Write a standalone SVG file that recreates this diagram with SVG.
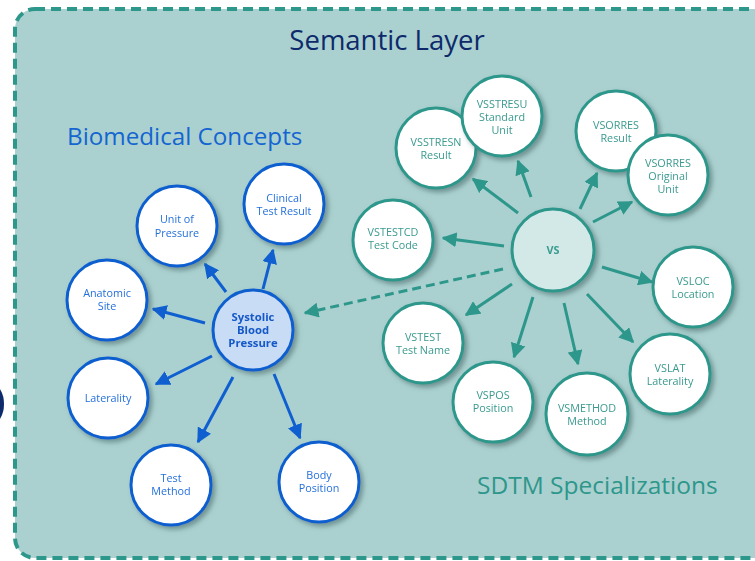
<svg xmlns="http://www.w3.org/2000/svg" width="755" height="561" viewBox="0 0 755 561">
<defs>
<filter id="sh" x="-30%" y="-30%" width="170%" height="170%">
<feDropShadow dx="3" dy="3" stdDeviation="2.5" flood-color="#3d5f5e" flood-opacity="0.55"/>
</filter>
<marker id="ab" viewBox="0 0 10 10" refX="9" refY="5" markerWidth="5" markerHeight="5" orient="auto" markerUnits="strokeWidth">
<path d="M0,0 L10,5 L0,10 z" fill="#0f5fd0"/>
</marker>
<marker id="at" viewBox="0 0 10 10" refX="9" refY="5" markerWidth="5" markerHeight="5" orient="auto" markerUnits="strokeWidth">
<path d="M0,0 L10,5 L0,10 z" fill="#2e978b"/>
</marker>
</defs>
<style>
.bc{fill:#ffffff;stroke:#0f5fd0;stroke-width:3}
.tc{fill:#ffffff;stroke:#2e978b;stroke-width:3}
.bt{font-family:"Open Sans","Noto Sans",sans-serif;font-size:10.8px;fill:#2470dc;text-anchor:middle}
.tt{font-family:"Open Sans","Noto Sans",sans-serif;font-size:10.8px;fill:#3a9a8f;text-anchor:middle}
.bl{stroke:#0f5fd0;stroke-width:3;fill:none;marker-end:url(#ab)}
.tl{stroke:#2e978b;stroke-width:3;fill:none;marker-end:url(#at)}
</style>
<rect width="755" height="561" fill="#ffffff"/>
<ellipse cx="-7" cy="404" rx="11" ry="19" fill="#0d2a6b"/>
<rect id="frame" x="15" y="9" width="760" height="549" rx="20" fill="#aad1d0" stroke="#2e978b" stroke-width="4" stroke-dasharray="10,6"/>
<text x="387" y="50" font-family="'Open Sans','Noto Sans',sans-serif" font-size="27.5" fill="#0d2a6b" text-anchor="middle">Semantic Layer</text>
<text x="67" y="145" font-family="'Open Sans','Noto Sans',sans-serif" font-size="24.2" fill="#1565d0">Biomedical Concepts</text>
<text x="477" y="494" font-family="'Open Sans','Noto Sans',sans-serif" font-size="24.5" fill="#2e978b">SDTM Specializations</text>

<g id="connectors">
<line class="bl" x1="226" y1="292" x2="205" y2="264"/>
<line class="bl" x1="263" y1="289" x2="273" y2="250"/>
<line class="bl" x1="205" y1="323" x2="153" y2="309"/>
<line class="bl" x1="212" y1="356" x2="156" y2="384"/>
<line class="bl" x1="233" y1="377" x2="198" y2="442"/>
<line class="bl" x1="274" y1="374" x2="300" y2="438"/>
<line class="tl" x1="518" y1="213" x2="473" y2="179"/>
<line class="tl" x1="531" y1="197" x2="518" y2="161"/>
<line class="tl" x1="580" y1="209" x2="597" y2="173"/>
<line class="tl" x1="593" y1="222" x2="632" y2="202"/>
<line class="tl" x1="504" y1="246" x2="443" y2="238"/>
<line class="tl" x1="602" y1="267" x2="652" y2="282"/>
<line class="tl" x1="512" y1="284" x2="466" y2="315"/>
<line class="tl" x1="533" y1="297" x2="514" y2="357"/>
<line class="tl" x1="564" y1="303" x2="578" y2="364"/>
<line class="tl" x1="587" y1="294" x2="633" y2="342"/>
<line class="tl" x1="503" y1="269" x2="305" y2="313" stroke-dasharray="9,5"/>
</g>

<g id="unit-of-pressure" filter="url(#sh)"><circle class="bc" cx="177" cy="226" r="40"/><text class="bt" x="177" y="223">Unit of</text><text class="bt" x="177" y="237">Pressure</text></g>
<g id="clinical-test-result" filter="url(#sh)"><circle class="bc" cx="284" cy="204" r="40"/><text class="bt" x="284" y="202">Clinical</text><text class="bt" x="284" y="215">Test Result</text></g>
<g id="anatomic-site" filter="url(#sh)"><circle class="bc" cx="107" cy="300" r="40"/><text class="bt" x="107" y="297">Anatomic</text><text class="bt" x="107" y="310">Site</text></g>
<g id="laterality" filter="url(#sh)"><circle class="bc" cx="108" cy="398" r="40"/><text class="bt" x="108" y="402">Laterality</text></g>
<g id="systolic-blood-pressure" filter="url(#sh)"><circle class="bc" cx="253" cy="330" r="40" style="fill:#c9dcf5"/><text class="bt" x="253" y="321" font-weight="bold" style="fill:#1459c8;font-size:11.3px">Systolic</text><text class="bt" x="253" y="334" font-weight="bold" style="fill:#1459c8;font-size:11.3px">Blood</text><text class="bt" x="253" y="347" font-weight="bold" style="fill:#1459c8;font-size:11.3px">Pressure</text></g>
<g id="test-method" filter="url(#sh)"><circle class="bc" cx="171" cy="485" r="40"/><text class="bt" x="171" y="482">Test</text><text class="bt" x="171" y="495">Method</text></g>
<g id="body-position" filter="url(#sh)"><circle class="bc" cx="319" cy="482" r="40"/><text class="bt" x="319" y="479">Body</text><text class="bt" x="319" y="492">Position</text></g>

<g id="vsstresn" filter="url(#sh)"><circle class="tc" cx="436" cy="148" r="40"/><text class="tt" x="436" y="146">VSSTRESN</text><text class="tt" x="436" y="159">Result</text></g>
<g id="vsstresu" filter="url(#sh)"><circle class="tc" cx="502" cy="116" r="40"/><text class="tt" x="502" y="108">VSSTRESU</text><text class="tt" x="502" y="121">Standard</text><text class="tt" x="502" y="134">Unit</text></g>
<g id="vsorres-result" filter="url(#sh)"><circle class="tc" cx="616" cy="131" r="40"/><text class="tt" x="616" y="129">VSORRES</text><text class="tt" x="616" y="142">Result</text></g>
<g id="vsorres-unit" filter="url(#sh)"><circle class="tc" cx="668" cy="175" r="40"/><text class="tt" x="668" y="167">VSORRES</text><text class="tt" x="668" y="180">Original</text><text class="tt" x="668" y="193">Unit</text></g>
<g id="vstestcd" filter="url(#sh)"><circle class="tc" cx="393" cy="240" r="40"/><text class="tt" x="393" y="236">VSTESTCD</text><text class="tt" x="393" y="249">Test Code</text></g>
<g id="vs" filter="url(#sh)"><circle class="tc" cx="553" cy="250" r="41" style="fill:#d3e9e8"/><text class="tt" x="553" y="254" font-weight="bold">VS</text></g>
<g id="vsloc" filter="url(#sh)"><circle class="tc" cx="693" cy="287" r="40"/><text class="tt" x="693" y="285">VSLOC</text><text class="tt" x="693" y="298">Location</text></g>
<g id="vstest" filter="url(#sh)"><circle class="tc" cx="423" cy="343" r="40"/><text class="tt" x="423" y="341">VSTEST</text><text class="tt" x="423" y="354">Test Name</text></g>
<g id="vspos" filter="url(#sh)"><circle class="tc" cx="493" cy="402" r="40"/><text class="tt" x="493" y="399">VSPOS</text><text class="tt" x="493" y="412">Position</text></g>
<g id="vsmethod" filter="url(#sh)"><circle class="tc" cx="587" cy="414" r="41"/><text class="tt" x="587" y="412">VSMETHOD</text><text class="tt" x="587" y="425">Method</text></g>
<g id="vslat" filter="url(#sh)"><circle class="tc" cx="670" cy="374" r="40"/><text class="tt" x="670" y="372">VSLAT</text><text class="tt" x="670" y="385">Laterality</text></g>
</svg>
